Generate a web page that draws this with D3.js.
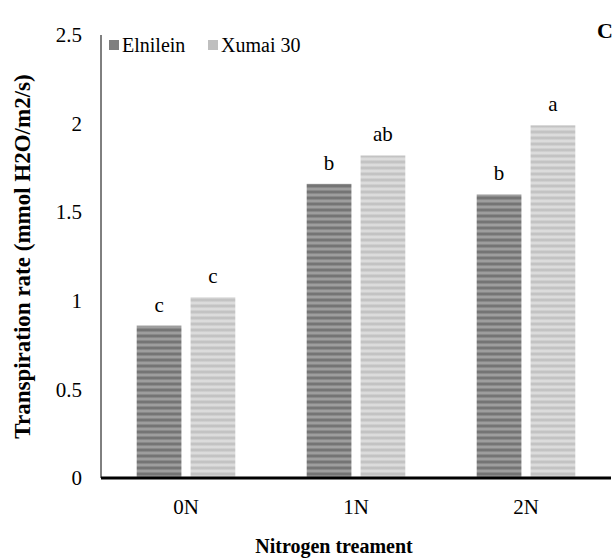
<!DOCTYPE html>
<html>
<head>
<meta charset="utf-8">
<script src="https://cdn.jsdelivr.net/npm/d3@7"></script>
<style>
  body { margin: 0; background: #fff; }
  svg { display: block; font-family: "Liberation Serif", "Times New Roman", serif; }
</style>
</head>
<body>
<div id="chart"></div>
<script>
const width = 615;
const height = 558;

const categories = ['0N', '1N', '2N'];
const seriesNames = ['Elnilein', 'Xumai 30'];
const elnilein = [0.86, 1.66, 1.60];
const xumai = [1.02, 1.82, 1.99];
const elnileinLetters = ['c', 'b', 'b'];
const xumaiLetters = ['c', 'ab', 'a'];
const yTicks = [0, 0.5, 1, 1.5, 2, 2.5];

const plotLeft = 101, plotRight = 611, plotTop = 35, plotBottom = 478;

const svg = d3.select('#chart').append('svg')
  .attr('width', width).attr('height', height);

// striped fills for the bars
const defs = svg.append('defs');
function stripes(id, c1, c2) {
  const grad = defs.append('linearGradient')
    .attr('id', id + '_g').attr('x1', 0).attr('y1', 0).attr('x2', 0).attr('y2', 1);
  grad.append('stop').attr('offset', '0%').attr('stop-color', c1);
  grad.append('stop').attr('offset', '50%').attr('stop-color', c2);
  grad.append('stop').attr('offset', '100%').attr('stop-color', c1);
  const pat = defs.append('pattern')
    .attr('id', id).attr('patternUnits', 'userSpaceOnUse')
    .attr('width', 10).attr('height', 6);
  pat.append('rect').attr('width', 10).attr('height', 6).attr('fill', `url(#${id}_g)`);
}
stripes('pat0', '#6a6a6a', '#a8a8a8');
stripes('pat1', '#bdbdbd', '#e2e2e2');

const data = categories.map((c, i) => ({
  cat: c,
  vals: [
    {name: seriesNames[0], value: elnilein[i], letter: elnileinLetters[i], s: 0},
    {name: seriesNames[1], value: xumai[i], letter: xumaiLetters[i], s: 1}
  ]
}));

const x0 = d3.scaleBand().domain(categories)
  .range([plotLeft, plotRight]).paddingInner(0.42).paddingOuter(0.21);
const x1 = d3.scaleBand().domain(seriesNames)
  .range([0, x0.bandwidth()]).paddingInner(0.17);
const y = d3.scaleLinear().domain([0, 2.5]).range([plotBottom, plotTop]);

// y axis labels
const yAxis = svg.append('g')
  .attr('transform', `translate(${plotLeft},0)`)
  .call(d3.axisLeft(y).tickValues(yTicks).tickSize(0).tickPadding(19).tickFormat(d => d));
yAxis.select('.domain').remove();
yAxis.selectAll('text').attr('font-size', '21px').attr('fill', '#000')
  .attr('font-family', '"Liberation Serif", serif');

svg.append('line')
  .attr('x1', plotLeft).attr('x2', plotLeft)
  .attr('y1', plotTop).attr('y2', plotBottom)
  .attr('stroke', '#000').attr('stroke-width', 1);

// bars
const groups = svg.append('g').selectAll('g')
  .data(data).join('g')
  .attr('transform', d => `translate(${x0(d.cat)},0)`);

groups.selectAll('rect')
  .data(d => d.vals).join('rect')
  .attr('x', d => x1(d.name))
  .attr('y', d => y(d.value))
  .attr('width', x1.bandwidth())
  .attr('height', d => y(0) - y(d.value))
  .attr('fill', d => `url(#pat${d.s})`);

groups.selectAll('text')
  .data(d => d.vals).join('text')
  .attr('x', d => x1(d.name) + x1.bandwidth() / 2)
  .attr('y', d => y(d.value) - 14)
  .attr('text-anchor', 'middle')
  .attr('font-size', '21px')
  .text(d => d.letter);

// x axis
const xAxis = svg.append('g')
  .attr('transform', `translate(0,${plotBottom})`)
  .call(d3.axisBottom(x0).tickSize(0).tickPadding(21));
xAxis.select('.domain').remove();
xAxis.selectAll('text').attr('font-size', '21px').attr('fill', '#000')
  .attr('font-family', '"Liberation Serif", serif');

svg.append('line')
  .attr('x1', plotLeft).attr('x2', plotRight)
  .attr('y1', plotBottom).attr('y2', plotBottom)
  .attr('stroke', '#000').attr('stroke-width', 3);

// axis titles
svg.append('text')
  .attr('x', (plotLeft + plotRight) / 2 - 22).attr('y', 553)
  .attr('text-anchor', 'middle')
  .attr('font-size', '20px').attr('font-weight', 'bold')
  .text('Nitrogen treament');

svg.append('text')
  .attr('transform', `translate(30,${(plotTop + plotBottom) / 2}) rotate(-90)`)
  .attr('text-anchor', 'middle')
  .attr('font-size', '23px').attr('font-weight', 'bold')
  .text('Transpiration rate (mmol H2O/m2/s)');

// legend
const legendX = [109, 208];
const legend = svg.append('g').selectAll('g')
  .data(seriesNames).join('g')
  .attr('transform', (d, i) => `translate(${legendX[i]},45)`);
legend.append('rect')
  .attr('x', 0).attr('y', -5).attr('width', 10).attr('height', 10)
  .attr('fill', (d, i) => i === 0 ? '#7f7f7f' : '#bfbfbf');
legend.append('text')
  .attr('x', 13).attr('y', 0).attr('dy', '0.35em')
  .attr('font-size', '20px')
  .text(d => d);

// panel letter
svg.append('text')
  .attr('x', 597).attr('y', 38)
  .attr('font-size', '22px').attr('font-weight', 'bold')
  .text('C');
</script>
</body>
</html>
